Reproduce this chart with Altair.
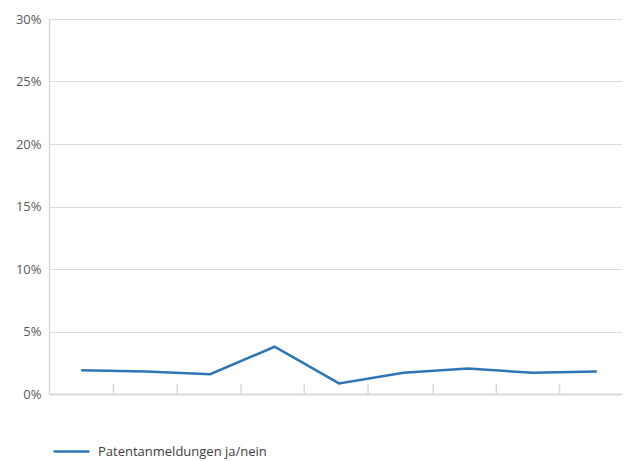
import altair as alt
import pandas as pd

series_name = "Patentanmeldungen ja/nein"
positions = [0.5, 1.5, 2.5, 3.5, 4.5, 5.5, 6.5, 7.5, 8.5]
values = [0.019, 0.018, 0.0158, 0.0378, 0.0085, 0.017, 0.0203, 0.017, 0.018]
tick_positions = [1.0, 1.99, 2.98, 3.96, 4.95, 5.96, 6.94, 7.92]
y_ticks = [0, 0.05, 0.10, 0.15, 0.20, 0.25, 0.30]

df = pd.DataFrame({"x": positions, "y": values, "series": [series_name] * len(values)})
ticks_df = pd.DataFrame({"x": tick_positions,
                         "y0": [0.0] * len(tick_positions),
                         "y1": [0.008] * len(tick_positions)})

FONT = "Open Sans"
GRID = "#d9d9d9"

# plot area visible to 573 px; a full 9-category span would be 580 px
xscale = alt.Scale(domain=[0, 8.89], nice=False, zero=False)
yscale = alt.Scale(domain=[0, 0.3], nice=False)

line = alt.Chart(df).mark_line(strokeWidth=2.5).encode(
    x=alt.X("x:Q", scale=xscale,
            axis=alt.Axis(title=None, labels=False, ticks=False, grid=False,
                          domainColor=GRID, domainWidth=2)),
    y=alt.Y("y:Q", scale=yscale,
            axis=alt.Axis(title=None, values=y_ticks, format="%", grid=True,
                          gridColor=GRID, gridWidth=1, ticks=False,
                          domainColor=GRID, domainWidth=1.5, labelColor="#595959",
                          labelFont=FONT, labelFontSize=13, labelPadding=8)),
    color=alt.Color("series:N",
                    scale=alt.Scale(range=["#2E75B6"]),
                    legend=alt.Legend(title=None, orient="none", legendX=3, legendY=413,
                                      padding=0, labelLimit=400,
                                      symbolType="stroke", symbolSize=1296,
                                      symbolStrokeWidth=2.5, labelFont=FONT,
                                      labelFontSize=13, labelColor="#404040",
                                      labelOffset=7)),
)

tick_rules = alt.Chart(ticks_df).mark_rule(color=GRID, strokeWidth=1.5).encode(
    x=alt.X("x:Q", scale=xscale),
    y=alt.Y("y0:Q", scale=yscale),
    y2="y1:Q",
)

chart = alt.layer(tick_rules, line).properties(
    width=573, height=375,
    autosize=alt.AutoSizeParams(type="none"),
    padding={"left": 41, "top": 11, "right": 0, "bottom": 66},
).configure_view(stroke=None).configure(background="white")

chart.save("out.html", embed_options={"renderer": "svg", "actions": False})
